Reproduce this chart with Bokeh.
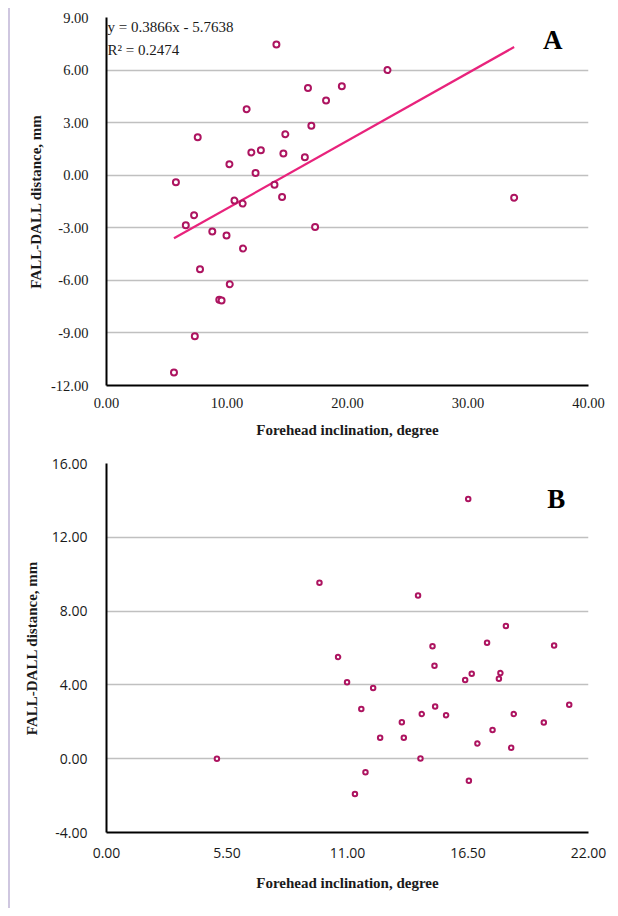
from bokeh.plotting import figure
from bokeh.models import Range1d, FixedTicker, Label
from bokeh.layouts import column
from bokeh.embed import file_html
from bokeh.resources import INLINE

# ---------------- Data: chart A ----------------
a_x = [14.10, 5.76, 7.57, 11.63, 16.72, 17.00, 14.84, 12.02, 12.81, 14.68, 16.46,
       10.20, 12.37, 13.94, 14.57, 10.62, 11.30, 7.27, 6.58, 8.78, 9.96, 17.31,
       11.33, 7.76, 10.23, 9.36, 9.55, 7.33, 5.60, 23.32, 19.53, 18.22, 33.83]
a_y = [7.46, -0.40, 2.17, 3.77, 4.97, 2.82, 2.34, 1.30, 1.43, 1.24, 1.03,
       0.63, 0.13, -0.55, -1.25, -1.45, -1.62, -2.28, -2.85, -3.21, -3.44, -2.96,
       -4.18, -5.36, -6.22, -7.11, -7.15, -9.19, -11.26, 6.00, 5.08, 4.26, -1.28]
a_slope = 0.3866
a_intercept = -5.7638
a_r2 = 0.2474
a_xticks = [0, 10, 20, 30, 40]
a_xlabels = ["0.00", "10.00", "20.00", "30.00", "40.00"]
a_yticks = [-12, -9, -6, -3, 0, 3, 6, 9]
a_ylabels = ["-12.00", "-9.00", "-6.00", "-3.00", "0.00", "3.00", "6.00", "9.00"]

# ---------------- Data: chart B ----------------
b_x = [16.51, 9.72, 14.22, 18.23, 14.88, 20.43, 17.37, 10.57, 14.97, 16.67, 16.37,
       17.98, 17.91, 10.98, 12.17, 11.63, 14.39, 15.00, 15.50, 18.59, 21.12,
       13.48, 12.49, 13.57, 14.33, 11.82, 11.34, 16.54, 16.93, 17.62, 18.47, 19.96, 5.04]
b_y = [14.07, 9.54, 8.84, 7.19, 6.09, 6.14, 6.29, 5.51, 5.04, 4.60, 4.26,
       4.64, 4.33, 4.15, 3.83, 2.69, 2.42, 2.83, 2.36, 2.42, 2.92,
       1.98, 1.13, 1.13, 0.01, -0.73, -1.91, -1.20, 0.82, 1.55, 0.59, 1.96, 0.00]
b_xticks = [0, 5.5, 11, 16.5, 22]
b_xlabels = ["0.00", "5.50", "11.00", "16.50", "22.00"]
b_yticks = [-4, 0, 4, 8, 12, 16]
b_ylabels = ["-4.00", "0.00", "4.00", "8.00", "12.00", "16.00"]

x_title = "Forehead inclination, degree"
y_title = "FALL-DALL distance, mm"

SERIF = "Liberation Serif"
SANS = "Open Sans"
MARKER = "#ad1460"
TREND = "#e8237c"
GRID = "#c0c0c0"


def style(p, xticks, xlabels, yticks, ylabels, tick_font, tick_size, ystand, xstand):
    p.outline_line_color = None
    p.background_fill_color = "white"
    p.border_fill_color = "white"
    p.xgrid.grid_line_color = None
    p.ygrid.grid_line_color = GRID
    p.ygrid.grid_line_width = 1.5
    p.ygrid.ticker = FixedTicker(ticks=yticks)
    p.xaxis.ticker = FixedTicker(ticks=xticks)
    p.yaxis.ticker = FixedTicker(ticks=yticks)
    p.xaxis.major_label_overrides = {t: l for t, l in zip(xticks, xlabels)}
    p.yaxis.major_label_overrides = {t: l for t, l in zip(yticks, ylabels)}
    for ax in (p.xaxis, p.yaxis):
        ax.axis_line_color = "black"
        ax.axis_line_width = 2
        ax.major_tick_line_color = None
        ax.minor_tick_line_color = None
        ax.major_label_text_font = tick_font
        ax.major_label_text_font_size = tick_size
        ax.major_label_text_color = "#1a1a1a"
        ax.axis_label_text_font = SERIF
        ax.axis_label_text_font_style = "bold"
        ax.axis_label_text_font_size = "15px"
        ax.axis_label_text_color = "#1a1a1a"
    p.yaxis.major_label_standoff = ystand
    p.xaxis.major_label_standoff = xstand
    p.xaxis.axis_label = x_title
    p.yaxis.axis_label = y_title


# ---------------- Figure A ----------------
pa = figure(width=600, height=440, output_backend="svg", toolbar_location=None,
            x_range=Range1d(0, 40), y_range=Range1d(-12, 9),
            min_border_left=96, min_border_right=18, min_border_top=9, min_border_bottom=63)
style(pa, a_xticks, a_xlabels, a_yticks, a_ylabels, SERIF, "14.5px", 12, 6)
pa.yaxis.axis_label_standoff = 4
pa.xaxis.axis_label_standoff = 11

tx = [min(a_x), max(a_x)]
ty = [a_slope * v + a_intercept for v in tx]
pa.line(tx, ty, line_color=TREND, line_width=2.2)
pa.scatter(a_x, a_y, size=6, marker="circle", fill_color="white",
           line_color=MARKER, line_width=2)

pa.add_layout(Label(x=0.08, y=8.43, text=f"y = {a_slope}x - {abs(a_intercept)}",
                    text_font=SERIF, text_font_size="15px", text_baseline="middle",
                    text_align="left", text_color="#1a1a1a"))
pa.add_layout(Label(x=0.08, y=7.12, text=f"R² = {a_r2}",
                    text_font=SERIF, text_font_size="15px", text_baseline="middle",
                    text_align="left", text_color="#1a1a1a"))
pa.add_layout(Label(x=37.04, y=7.74, text="A", text_font=SERIF, text_font_size="27px",
                    text_font_style="bold", text_baseline="middle", text_align="center",
                    text_color="black"))

# ---------------- Figure B ----------------
pb = figure(width=600, height=460, output_backend="svg", toolbar_location=None,
            x_range=Range1d(0, 22), y_range=Range1d(-4, 16),
            min_border_left=96, min_border_right=22, min_border_top=15, min_border_bottom=76)
style(pb, b_xticks, b_xlabels, b_yticks, b_ylabels, SANS, "14px", 13, 9)
pb.yaxis.axis_label_standoff = 9
pb.xaxis.axis_label_standoff = 14
pb.scatter(b_x, b_y, size=4.5, marker="circle", fill_color="white",
           line_color=MARKER, line_width=2)
pb.add_layout(Label(x=20.53, y=14.09, text="B", text_font=SERIF, text_font_size="27px",
                    text_font_style="bold", text_baseline="middle", text_align="center",
                    text_color="black"))

layout = column(pa, pb, margin=(8, 0, 0, 8),
                styles={"border-left": "2px solid #cfc7e0", "background": "white"})

open("out.html", "w").write(file_html(layout, INLINE))
